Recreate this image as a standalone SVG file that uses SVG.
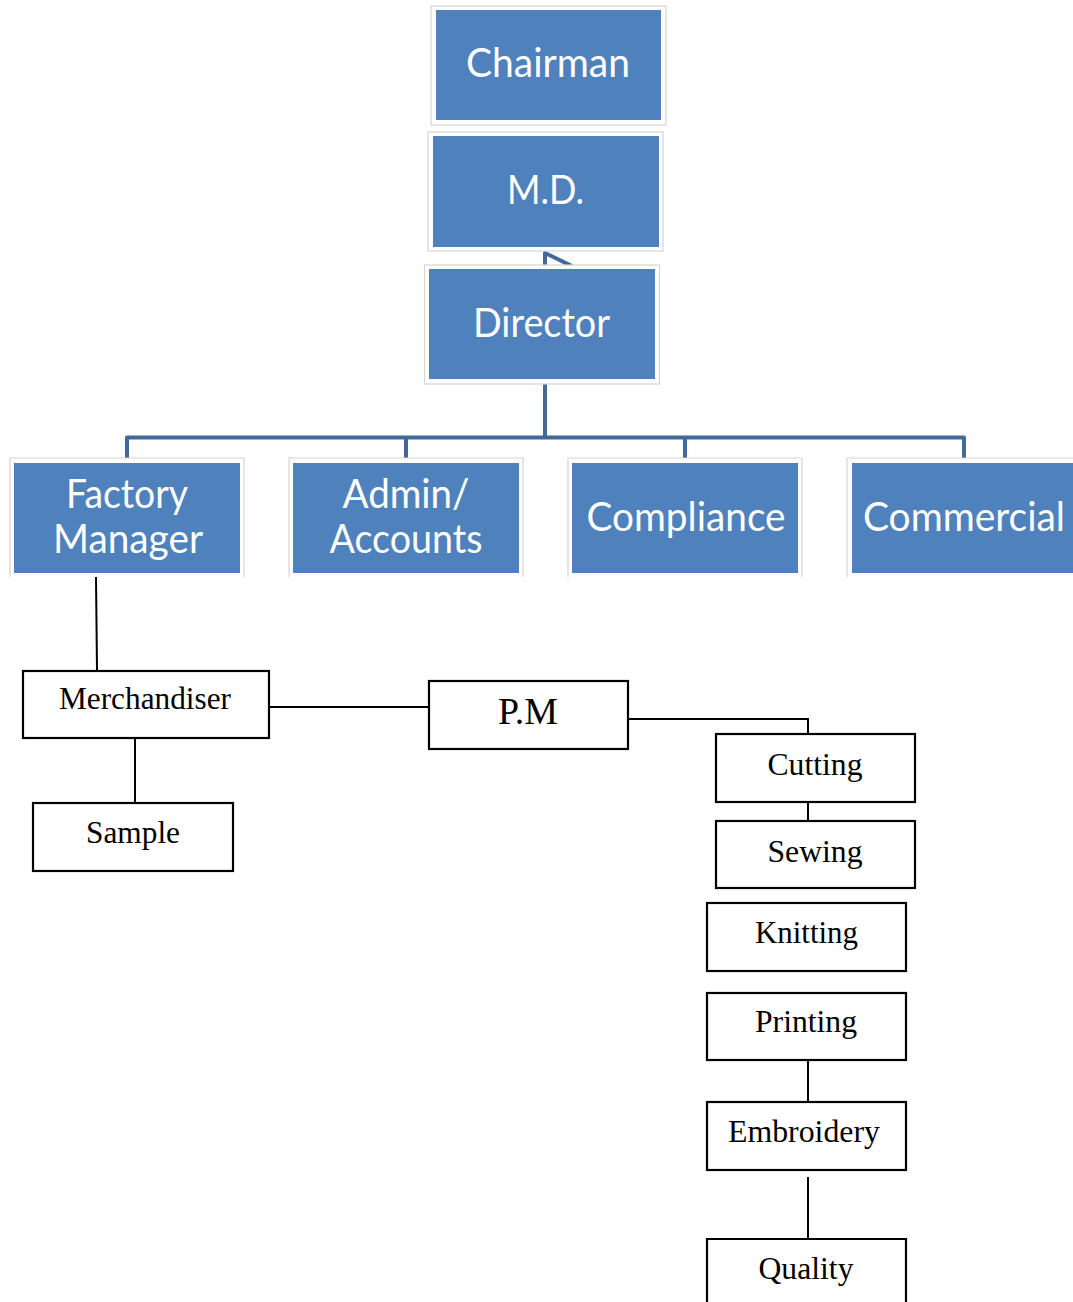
<svg xmlns="http://www.w3.org/2000/svg" width="1073" height="1302" viewBox="0 0 1073 1302">
<style>
.frame{fill:#ffffff;stroke:#d4d4d4;stroke-width:1.2}
.fill{fill:#4f81bd}
.bt{font-family:Lato,"Open Sans","Liberation Sans",sans-serif;fill:#ffffff;font-size:40px;text-anchor:middle}
.box{fill:#ffffff;stroke:#000000;stroke-width:2.2}
.st{font-family:"Liberation Serif","Times New Roman",serif;fill:#000000;font-size:32px;text-anchor:middle}
.big{font-size:37px}
.bl{fill:none;stroke:#41699a;stroke-width:4;stroke-linejoin:round}
.kl{fill:none;stroke:#000000;stroke-width:2}
</style>
<rect width="1073" height="1302" fill="#ffffff"/>
<g id="connectors">
<path class="bl" d="M545,384 V437.5"/>
<path class="bl" d="M127,458 V437.5 H964 V458"/>
<path class="bl" d="M406,437.5 V458"/>
<path class="bl" d="M685,437.5 V458"/>
<path class="bl" stroke-width="3" d="M545,265 V253 L572,266"/>
<path class="kl" d="M96,577 L97,670"/>
<path class="kl" d="M135,738 V803"/>
<path class="kl" d="M269,707 H429"/>
<path class="kl" d="M628,719 H808 V734"/>
<path class="kl" d="M808,802 V821"/>
<path class="kl" d="M808,1060 V1102"/>
<path class="kl" d="M808,1177 V1238"/>
</g>
<g id="chairman">
<rect class="frame" x="431" y="6" width="235" height="119"/>
<rect class="fill" x="436" y="10" width="225" height="110"/>
<text class="bt" x="548" y="77" textLength="164" lengthAdjust="spacingAndGlyphs">Chairman</text>
</g>
<g id="md">
<rect class="frame" x="428" y="132" width="235" height="119"/>
<rect class="fill" x="433" y="136" width="226" height="111"/>
<text class="bt" x="545.5" y="204" textLength="77" lengthAdjust="spacingAndGlyphs">M.D.</text>
</g>
<g id="director">
<rect class="frame" x="424.5" y="265" width="235" height="119"/>
<rect class="fill" x="429" y="269" width="226" height="110"/>
<text class="bt" x="541.5" y="337" textLength="137" lengthAdjust="spacingAndGlyphs">Director</text>
</g>
<g id="factory-manager">
<path class="frame" d="M10,577 V458 H244 V577"/>
<rect class="fill" x="14" y="463" width="226" height="110"/>
<text class="bt" x="127" y="508" textLength="122" lengthAdjust="spacingAndGlyphs">Factory</text>
<text class="bt" x="128" y="553" textLength="150" lengthAdjust="spacingAndGlyphs">Manager</text>
</g>
<g id="admin-accounts">
<path class="frame" d="M289,577 V458 H523 V577"/>
<rect class="fill" x="293" y="463" width="226" height="110"/>
<text class="bt" x="406" y="508" textLength="127" lengthAdjust="spacingAndGlyphs">Admin/</text>
<text class="bt" x="406" y="553" textLength="153" lengthAdjust="spacingAndGlyphs">Accounts</text>
</g>
<g id="compliance">
<path class="frame" d="M568,577 V458 H802 V577"/>
<rect class="fill" x="572" y="463" width="226" height="110"/>
<text class="bt" x="686" y="531" textLength="199" lengthAdjust="spacingAndGlyphs">Compliance</text>
</g>
<g id="commercial">
<path class="frame" d="M847,577 V458 H1075"/>
<rect class="fill" x="852" y="463" width="225" height="110"/>
<text class="bt" x="964" y="531" textLength="202" lengthAdjust="spacingAndGlyphs">Commercial</text>
</g>
<g id="merchandiser">
<rect class="box" x="23" y="671" width="246" height="67"/>
<text class="st" x="145" y="709" textLength="172" lengthAdjust="spacingAndGlyphs">Merchandiser</text>
</g>
<g id="sample">
<rect class="box" x="33" y="803" width="200" height="68"/>
<text class="st" x="133" y="843" textLength="94" lengthAdjust="spacingAndGlyphs">Sample</text>
</g>
<g id="pm">
<rect class="box" x="429" y="681" width="199" height="68"/>
<text class="st big" x="528" y="724" textLength="60" lengthAdjust="spacingAndGlyphs">P.M</text>
</g>
<g id="cutting">
<rect class="box" x="716" y="734" width="199" height="68"/>
<text class="st" x="815" y="775" textLength="95" lengthAdjust="spacingAndGlyphs">Cutting</text>
</g>
<g id="sewing">
<rect class="box" x="716" y="821" width="199" height="67"/>
<text class="st" x="815" y="862" textLength="95" lengthAdjust="spacingAndGlyphs">Sewing</text>
</g>
<g id="knitting">
<rect class="box" x="707" y="903" width="199" height="68"/>
<text class="st" x="806.5" y="943" textLength="103" lengthAdjust="spacingAndGlyphs">Knitting</text>
</g>
<g id="printing">
<rect class="box" x="707" y="993" width="199" height="67"/>
<text class="st" x="806" y="1032" textLength="102" lengthAdjust="spacingAndGlyphs">Printing</text>
</g>
<g id="embroidery">
<rect class="box" x="707" y="1102" width="199" height="68"/>
<text class="st" x="804" y="1142" textLength="152" lengthAdjust="spacingAndGlyphs">Embroidery</text>
</g>
<g id="quality">
<path class="box" d="M707,1310 V1239 H906 V1310"/>
<text class="st" x="806" y="1279" textLength="95" lengthAdjust="spacingAndGlyphs">Quality</text>
</g>
</svg>
